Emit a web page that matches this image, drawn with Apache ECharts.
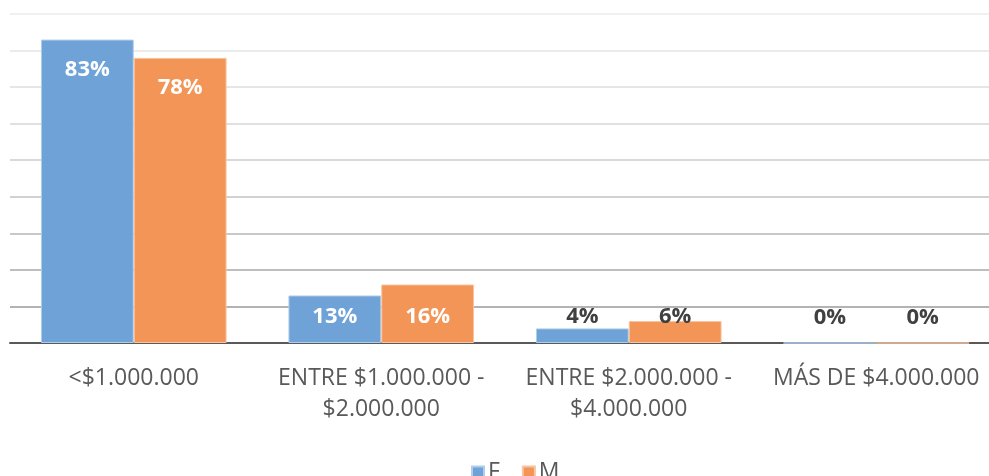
<!DOCTYPE html>
<html>
<head>
<meta charset="utf-8">
<script src="https://cdn.jsdelivr.net/npm/echarts@6/dist/echarts.min.js"></script>
<style>html,body{margin:0;padding:0;background:#fff;overflow:hidden;width:989px;height:476px}#c{width:1001px;height:476px}</style>
</head>
<body>
<div id="c"></div>
<script>
const categories = ['<$1.000.000', 'ENTRE $1.000.000 -\n$2.000.000', 'ENTRE $2.000.000 -\n$4.000.000', 'MÁS DE $4.000.000'];
const seriesNames = ['F', 'M'];
const valuesF = [83, 13, 4, 0];
const valuesM = [78, 16, 6, 0];

const font = '"Open Sans", sans-serif';
function labelFor(i) {
  if (i === 0) return { position: 'insideTop', distance: 19, color: '#fff' };
  if (i === 1) return { position: 'insideBottom', distance: 15, color: '#fff' };
  return { position: 'insideBottom', distance: 15, color: '#404040' };
}
function mk(vals) {
  return vals.map((v, i) => ({ value: v, label: labelFor(i) }));
}
const chart = echarts.init(document.getElementById('c'));
chart.setOption({
  animation: false,
  grid: { left: 10, top: 14, width: 990, height: 329, containLabel: false },
  legend: {
    data: seriesNames, top: 456, left: 466, itemWidth: 12, itemHeight: 12, itemGap: 22,
    icon: 'rect', textStyle: { fontFamily: font, fontSize: 23, color: '#595959', padding: [0,0,0,-1] }
  },
  xAxis: {
    type: 'category', data: categories,
    axisLine: { lineStyle: { color: '#595959', width: 2 } },
    axisTick: { show: false },
    axisLabel: { fontFamily: font, fontSize: 23, color: '#595959', margin: 20, lineHeight: 31, interval: 0 }
  },
  yAxis: {
    type: 'value', min: 0, max: 90, interval: 10,
    axisLabel: { show: false }, axisLine: { show: false }, axisTick: { show: false },
    splitLine: { lineStyle: { width: 2, color: ['#595959', '#b3b3b3', '#bebebe', '#c8c8c8', '#d1d1d1', '#d9d9d9', '#e0e0e0', '#e6e6e6', '#ebebeb', '#f0f0f0'] } }
  },
  series: [
    { name: 'F', type: 'bar', data: mk(valuesF), barGap: '0%', barCategoryGap: '25%',
      itemStyle: { color: '#6fa3d7', borderColor: '#b0cdeb', borderWidth: 1 },
      label: { show: true, formatter: '{c}%', fontFamily: font, fontSize: 22, fontWeight: 'bold' } },
    { name: 'M', type: 'bar', data: mk(valuesM),
      itemStyle: { color: '#f29556', borderColor: '#f8c4a2', borderWidth: 1 },
      label: { show: true, formatter: '{c}%', fontFamily: font, fontSize: 22, fontWeight: 'bold' } }
  ]
});
</script>
</body>
</html>
